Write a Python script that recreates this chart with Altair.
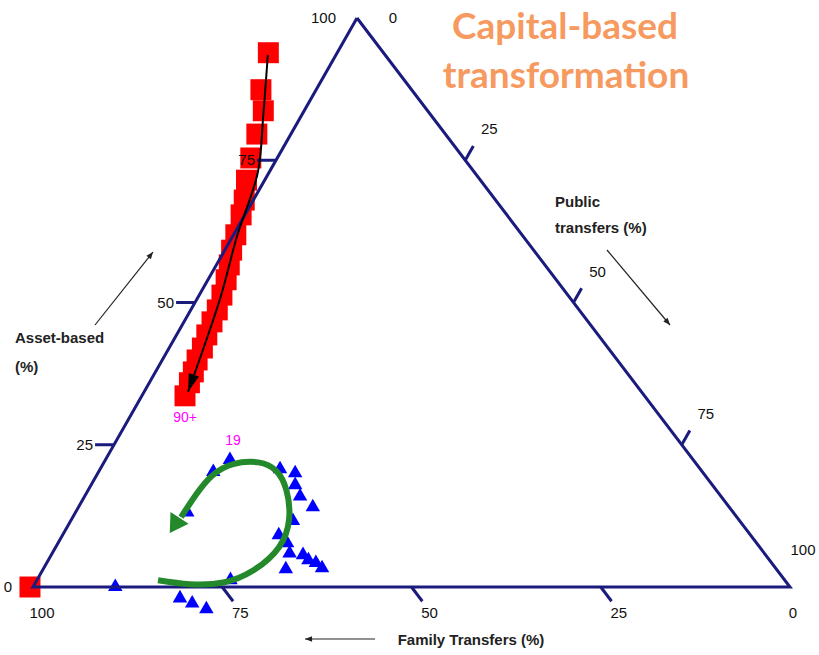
import altair as alt
import pandas as pd

# ---------------- data (ternary: asset-based %, public transfers %; family = 100 - a - p)
red_asset = [93.9, 87.4, 83.7, 79.6, 75.4, 71.5, 68.0, 65.4, 61.9, 59.2, 56.6,
             54.0, 51.3, 48.7, 46.6, 44.3, 42.0, 39.9, 37.8, 35.9, 33.6, 0.0]
red_public = [-9.1, -7.3, -5.4, -4.5, -3.5, -2.4, -1.2, -0.5, 0.3, 0.9, 1.7,
              2.4, 3.0, 3.5, 3.7, 4.0, 4.4, 4.6, 5.0, 5.3, 5.7, -0.4]

blue_asset = [22.7, 20.6, 13.5, 21.1, 20.4, 18.3, 16.3, 14.4, 12.0, 9.5, 8.1,
              6.3, 6.0, 5.1, 4.6, 3.7, 3.5, 1.6, 0.4, -1.6, -2.5, -3.5]
blue_public = [16.3, 15.0, 14.6, 23.6, 25.9, 26.8, 28.3, 30.8, 29.2, 28.4, 30.1,
               31.2, 33.1, 34.2, 35.4, 36.6, 31.9, 25.4, 10.7, 20.1, 22.1, 24.4]

# age labels
age_text = ["90+", "19"]
age_asset = [33.6, 22.7]
age_public = [5.7, 16.3]

# trend arrows (ternary paths)
black_asset = [93.5, 83.0, 72.9, 61.5, 50.8, 34.3]
black_public = [-9.0, -5.1, -1.5, 0.6, 3.0, 5.8]
green_asset = [1.2, 0.5, 0.8, 3.0, 7.0, 12.0, 17.0, 20.4, 21.9, 21.6, 19.6, 16.3, 12.3]
green_public = [16.0, 20.5, 24.8, 27.9, 29.5, 28.7, 26.2, 23.4, 20.4, 17.2, 15.3, 14.6, 14.3]
green_tip = (9.5, 14.0)

tick_values = [25, 50, 75]

# ---------------- layout: triangle vertices in page pixels
TX, TY = 357, 18   # asset 100
LX, LY = 33, 587   # family 100
RX, RY = 790, 587  # public 100
TICK = 2.5
NAVY = "#1b1b7e"
FONT = "Liberation Sans Narrow, Arial Narrow, Liberation Sans"


def px(a, p):
    return f"(({a})*{TX} + ({p})*{RX} + (100-({a})-({p}))*{LX})/100"


def py(a, p):
    return f"(({a})*{TY} + ({p})*{RY} + (100-({a})-({p}))*{LY})/100"


xs = alt.Scale(domain=[0, 819], nice=False, zero=False)
ys = alt.Scale(domain=[0, 655], nice=False, zero=False, reverse=True)
X = alt.X("x:Q", scale=xs, axis=None)
Y = alt.Y("y:Q", scale=ys, axis=None)


def tern(df):
    return alt.Chart(df).transform_calculate(
        x=px("datum.a", "datum.p"), y=py("datum.a", "datum.p"))


red = pd.DataFrame({"a": red_asset, "p": red_public})
blue = pd.DataFrame({"a": blue_asset, "p": blue_public})
ages = pd.DataFrame({"t": age_text, "a": age_asset, "p": age_public})
black = pd.DataFrame({"a": black_asset, "p": black_public, "i": range(len(black_asset))})
green = pd.DataFrame({"a": green_asset, "p": green_public, "i": range(len(green_asset))})
edges = pd.DataFrame({"a": [100, 0, 0, 100], "p": [0, 100, 0, 0], "i": [0, 1, 2, 3]})

tick_rows = []
for v in tick_values:
    tick_rows.append({"a1": v, "p1": 0, "a2": v, "p2": -TICK})
    tick_rows.append({"a1": 100 - v, "p1": v, "a2": 100 - v + TICK, "p2": v})
    tick_rows.append({"a1": 0, "p1": 100 - v, "a2": -TICK, "p2": 100 - v + TICK})
ticks = pd.DataFrame(tick_rows)

lab_rows = []
for v in [0] + tick_values + [100]:
    lab_rows.append({"t": str(v), "a": v, "p": 0, "g": "left"})
for v in tick_values:
    lab_rows.append({"t": str(v), "a": 100 - v, "p": v, "g": "right"})
    lab_rows.append({"t": str(v), "a": 0, "p": 100 - v, "g": "bottom"})
lab_rows += [
    {"t": "0", "a": 100, "p": 0, "g": "rtop"},
    {"t": "100", "a": 0, "p": 100, "g": "rbot"},
    {"t": "100", "a": 0, "p": 0, "g": "bleft"},
    {"t": "0", "a": 0, "p": 100, "g": "bright"},
]
labels = pd.DataFrame(lab_rows)

layers = []

# data points
layers.append(tern(red).mark_point(shape="square", filled=True, opacity=1,
                                   color="#ff0000", size=440).encode(x=X, y=Y))
layers.append(tern(blue).mark_point(shape="triangle-up", filled=True, opacity=1,
                                    color="#0000ff", size=210).encode(x=X, y=Y))

# triangle frame and ticks
layers.append(tern(edges).mark_line(color=NAVY, strokeWidth=3, strokeJoin="miter")
              .encode(x=X, y=Y, order="i:Q"))
layers.append(alt.Chart(ticks).transform_calculate(
    x=px("datum.a1", "datum.p1"), y=py("datum.a1", "datum.p1"),
    x2=px("datum.a2", "datum.p2"), y2=py("datum.a2", "datum.p2"))
    .mark_rule(color=NAVY, strokeWidth=3)
    .encode(x=X, y=Y, x2="x2:Q", y2="y2:Q"))

# tick labels
lab_style = {
    "left": dict(align="right", dx=-21, dy=0),
    "right": dict(align="center", dx=24, dy=-31),
    "bottom": dict(align="center", dx=18, dy=26),
    "rtop": dict(align="center", dx=36, dy=0),
    "rbot": dict(align="center", dx=13, dy=-37),
    "bleft": dict(align="center", dx=9, dy=26),
    "bright": dict(align="center", dx=3, dy=26),
}
for g, st in lab_style.items():
    layers.append(tern(labels).transform_filter(f"datum.g == '{g}'")
                  .mark_text(font=FONT, fontSize=15, color="#111111",
                             baseline="middle", **st)
                  .encode(x=X, y=Y, text="t:N"))

# age labels
layers.append(tern(ages).transform_filter("datum.t == '90+'")
              .mark_text(font="Liberation Sans", fontSize=14, color="#ff00ff",
                         baseline="middle", dy=22)
              .encode(x=X, y=Y, text="t:N"))
layers.append(tern(ages).transform_filter("datum.t == '19'")
              .mark_text(font="Liberation Sans", fontSize=14, color="#ff00ff",
                         baseline="middle", dx=3, dy=-17)
              .encode(x=X, y=Y, text="t:N"))

# black trend arrow
layers.append(tern(black).mark_line(color="black", strokeWidth=2, interpolate="catmull-rom")
              .encode(x=X, y=Y, order="i:Q"))
layers.append(tern(black.tail(1)).mark_point(shape="M0,0L0.3,1L-0.3,1Z", filled=True,
                                             opacity=1, color="black", size=1296, angle=199)
              .encode(x=X, y=Y))

# green trend arrow
layers.append(tern(green).mark_line(color="#23892a", strokeWidth=6, interpolate="natural",
                                    strokeCap="butt")
              .encode(x=X, y=Y, order="i:Q"))
layers.append(tern(pd.DataFrame({"a": [green_tip[0]], "p": [green_tip[1]]}))
              .mark_point(shape="M0,0L0.6,1L-0.6,1Z", filled=True, opacity=1,
                          color="#23892a", size=1296, angle=213)
              .encode(x=X, y=Y))


# ---- annotation text and small arrows (page pixels)
def txt(s, x, y, **kw):
    return alt.Chart(alt.Data(values=[{}])).mark_text(text=s, **kw).encode(
        x=alt.value(x), y=alt.value(y))


def arrow(x1, y1, x2, y2, ang):
    r = alt.Chart(alt.Data(values=[{}])).mark_rule(color="#222222", strokeWidth=1.2).encode(
        x=alt.value(x1), y=alt.value(y1), x2=alt.value(x2), y2=alt.value(y2))
    h = alt.Chart(alt.Data(values=[{}])).mark_point(
        shape="M0,0L0.4,1L-0.4,1Z", filled=True, opacity=1, color="#222222",
        size=200, angle=ang).encode(x=alt.value(x2), y=alt.value(y2))
    return [r, h]


TITLE_C = "#f79a5f"
layers.append(txt("Capital-based", 565, 39, font="Lato", fontSize=37, fontWeight="bold",
                  color=TITLE_C, align="center", baseline="alphabetic"))
layers.append(txt("transformation", 566, 88, font="Lato", fontSize=37, fontWeight="bold",
                  color=TITLE_C, align="center", baseline="alphabetic"))

AX = dict(font="Liberation Sans", fontSize=15, fontWeight="bold", color="#222222",
          baseline="middle")
layers.append(txt("Asset-based", 15, 338, align="left", **AX))
layers.append(txt("(%)", 15, 367, align="left", **AX))
layers.append(txt("Public", 555, 202, align="left", **AX))
layers.append(txt("transfers (%)", 555, 228, align="left", **AX))
layers.append(txt("Family Transfers (%)", 471, 640, align="center",
                  font=FONT, fontSize=15, fontWeight="bold", color="#222222",
                  baseline="middle"))

layers += arrow(95, 325, 153, 252, 38)
layers += arrow(607, 250, 670, 325, 140)
layers += arrow(375, 639, 305, 639, 270)

chart = alt.layer(*layers).properties(
    width=819, height=655, autosize="none", padding=0, background="white"
).configure_view(stroke=None)

chart.save("out.html", embed_options={"renderer": "svg", "actions": False})
